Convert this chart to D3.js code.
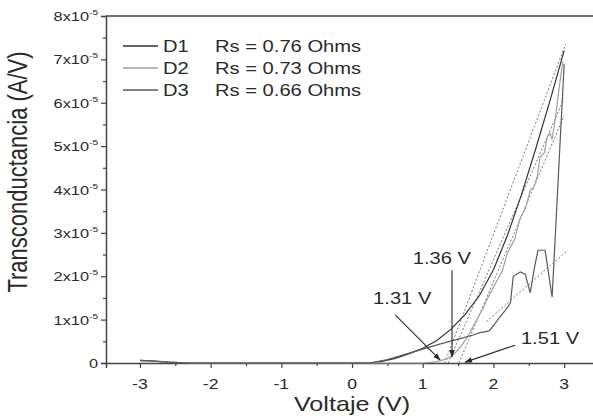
<!DOCTYPE html>
<html>
<head>
<meta charset="utf-8">
<script src="https://cdn.jsdelivr.net/npm/d3@7/dist/d3.min.js"></script>
<style>
  html, body { margin: 0; padding: 0; background: #fff; }
  svg { display: block; font-family: "Liberation Sans", Arial, sans-serif; }
</style>
</head>
<body>
<svg id="chart" width="593" height="419"></svg>
<script>
// values in units of 1e-5 A/V, voltage in V
const D1 = [[-3,0.06],[-2.85,0.05],[-2.6,0.02],[-2.3,0],[0,0],[0.25,0],[0.4,0.03],[0.6,0.1],[0.8,0.21],
  [1.0,0.34],[1.2,0.52],[1.4,0.78],[1.6,1.12],[1.8,1.55],[2.0,2.15],[2.2,2.95],[2.4,3.9],[2.6,4.95],
  [2.8,6.05],[3.0,7.2]];
const D2 = [[-3,0.05],[-2.85,0.04],[-2.6,0.02],[-2.3,0],[1.0,0],[1.2,0.03],[1.35,0.1],[1.45,0.22],
  [1.55,0.4],[1.65,0.65],[1.75,0.95],[1.85,1.25],[1.95,1.6],[2.05,1.9],[2.12,2.1],[2.2,2.55],
  [2.25,2.7],[2.3,2.85],[2.38,3.35],[2.45,3.55],[2.52,3.98],[2.57,4.05],[2.62,4.3],[2.66,4.75],
  [2.72,4.85],[2.76,5.2],[2.8,5.3],[2.83,5.15],[2.88,5.7],[2.93,6.35],[2.98,6.95]];
const D3 = [[-3,0.06],[-2.85,0.05],[-2.6,0.02],[-2.3,0],[0,0],[0.25,0],[0.5,0.08],[0.75,0.2],[1.0,0.32],
  [1.25,0.44],[1.5,0.55],[1.7,0.64],[1.81,0.7],[1.94,0.74],[2.02,0.9],[2.09,1.06],[2.17,1.22],
  [2.24,1.38],[2.28,2.0],[2.38,2.1],[2.45,2.05],[2.52,1.62],[2.58,2.2],[2.63,2.6],[2.73,2.6],
  [2.83,1.52],[3.0,6.9]];

// tangent (dashed) lines
const tangents = [
  [[1.31,0],[3.02,7.35]],
  [[1.36,0],[3.0,6.1]],
  [[1.51,0],[3.0,5.7]],
  [[1.9,0.95],[3.05,2.6]],
];

const seriesNames = ['D1', 'D2', 'D3'];
const seriesRs = ['Rs = 0.76 Ohms', 'Rs = 0.73 Ohms', 'Rs = 0.66 Ohms'];
const seriesColors = ['#333333', '#a0a0a0', '#5a5a5a'];

const xTicks = [-3, -2, -1, 0, 1, 2, 3];
const xMinor = [-2.5, -1.5, -0.5, 0.5, 1.5, 2.5];
const yTicks = [0, 1, 2, 3, 4, 5, 6, 7, 8];
const yMinor = [0.5, 1.5, 2.5, 3.5, 4.5, 5.5, 6.5, 7.5];

const notes = [
  { text: '1.31 V', at: [0.71, 1.36], from: [0.61, 1.11], to: [1.245, 0.07] },
  { text: '1.36 V', at: [1.27, 2.28], from: [1.414, 2.14], to: [1.414, 0.14] },
  { text: '1.51 V', at: [2.80, 0.44], from: [2.305, 0.41], to: [1.6, 0.02] },
];

const SX = 1.26; // the figure text is stretched sideways
const INK = '#2a2a2a';

const svg = d3.select('#chart');
const x = d3.scaleLinear().domain([-3.48, 3.5]).range([106, 599.5]);
const y = d3.scaleLinear().domain([0, 8]).range([363, 16]);

function label(sel, px, py, str, size, anchor) {
  return sel.append('text')
    .attr('transform', `translate(${px},${py}) scale(${SX},1)`)
    .attr('font-size', size)
    .attr('text-anchor', anchor)
    .attr('fill', INK)
    .text(str);
}

svg.append('defs').append('clipPath').attr('id', 'plot')
  .append('rect').attr('x', 106).attr('y', 10).attr('width', 500).attr('height', 354);

svg.select('defs').append('marker')
  .attr('id', 'arrow').attr('viewBox', '0 0 10 10').attr('refX', 9).attr('refY', 5)
  .attr('markerWidth', 7).attr('markerHeight', 7).attr('orient', 'auto')
  .append('path').attr('d', 'M0,1.5L10,5L0,8.5Z').attr('fill', INK);

// frame: top line + axes
svg.append('line').attr('x1', x.range()[0]).attr('x2', x.range()[1])
  .attr('y1', y(8)).attr('y2', y(8)).attr('stroke', '#444').attr('stroke-width', 1.5);

const xAxis = svg.append('g').attr('transform', `translate(0,${y(0)})`)
  .call(d3.axisBottom(x).tickValues(xTicks).tickSize(5).tickPadding(7).tickFormat(d3.format('d')));
svg.append('g').attr('transform', `translate(0,${y(0)})`)
  .call(d3.axisBottom(x).tickValues(xMinor).tickSize(3).tickFormat(''))
  .select('.domain').remove();

svg.append('g').attr('transform', `translate(${x.range()[0]},0)`)
  .call(d3.axisLeft(y).tickValues(yTicks).tickSize(5).tickFormat(''));
svg.append('g').attr('transform', `translate(${x.range()[0]},0)`)
  .call(d3.axisLeft(y).tickValues(yMinor).tickSize(3).tickFormat(''))
  .select('.domain').remove();

svg.selectAll('.domain').attr('stroke', '#444').attr('stroke-width', 1.5);
svg.selectAll('.tick line').attr('stroke', '#444').attr('stroke-width', 1.2);

// x tick labels, stretched like the rest of the text
xAxis.selectAll('.tick text').remove();
xTicks.forEach(v => label(svg, x(v), 389, v < 0 ? '-' + Math.abs(v) : String(v), 14, 'middle'));

// y tick labels: 0, 1x10^-5 ...
yTicks.forEach(v => {
  const t = svg.append('text')
    .attr('transform', `translate(98,${y(v) + 5}) scale(${SX},1)`)
    .attr('font-size', 13).attr('text-anchor', 'end').attr('fill', INK);
  if (v === 0) { t.text('0'); return; }
  t.append('tspan').text(v + 'x10');
  t.append('tspan').attr('font-size', 8).attr('dy', -6).text('-5');
});

// axis titles
label(svg, x(0), 411, 'Voltaje (V)', 20, 'middle');
svg.append('text')
  .attr('transform', `translate(27,172) scale(${SX},1) rotate(-90)`)
  .attr('font-size', 22).attr('text-anchor', 'middle').attr('fill', INK)
  .text('Transconductancia (A/V)');

// curves
const line = d3.line().x(d => x(d[0])).y(d => y(d[1]));
const plot = svg.append('g').attr('clip-path', 'url(#plot)');

plot.selectAll('path.tan').data(tangents).join('path')
  .attr('class', 'tan').attr('d', line).attr('fill', 'none')
  .attr('stroke', '#777').attr('stroke-width', 1).attr('stroke-dasharray', '2,2');

plot.selectAll('path.series').data([D1, D2, D3]).join('path')
  .attr('class', 'series').attr('d', line).attr('fill', 'none')
  .attr('stroke', (d, i) => seriesColors[i]).attr('stroke-width', 1.2);

// annotations
notes.forEach(n => {
  svg.append('line')
    .attr('x1', x(n.from[0])).attr('y1', y(n.from[1]))
    .attr('x2', x(n.to[0])).attr('y2', y(n.to[1]))
    .attr('stroke', INK).attr('stroke-width', 1.1).attr('marker-end', 'url(#arrow)');
  label(svg, x(n.at[0]), y(n.at[1]), n.text, 16, 'middle');
});

// legend
const legend = svg.append('g');
seriesNames.forEach((name, i) => {
  const ly = 46 + i * 22;
  legend.append('line').attr('x1', 123).attr('x2', 158).attr('y1', ly).attr('y2', ly)
    .attr('stroke', seriesColors[i]).attr('stroke-width', 1.4);
  label(legend, 163, ly + 6, name, 16, 'start');
  label(legend, 215, ly + 6, seriesRs[i], 16, 'start');
});
</script>
</body>
</html>
